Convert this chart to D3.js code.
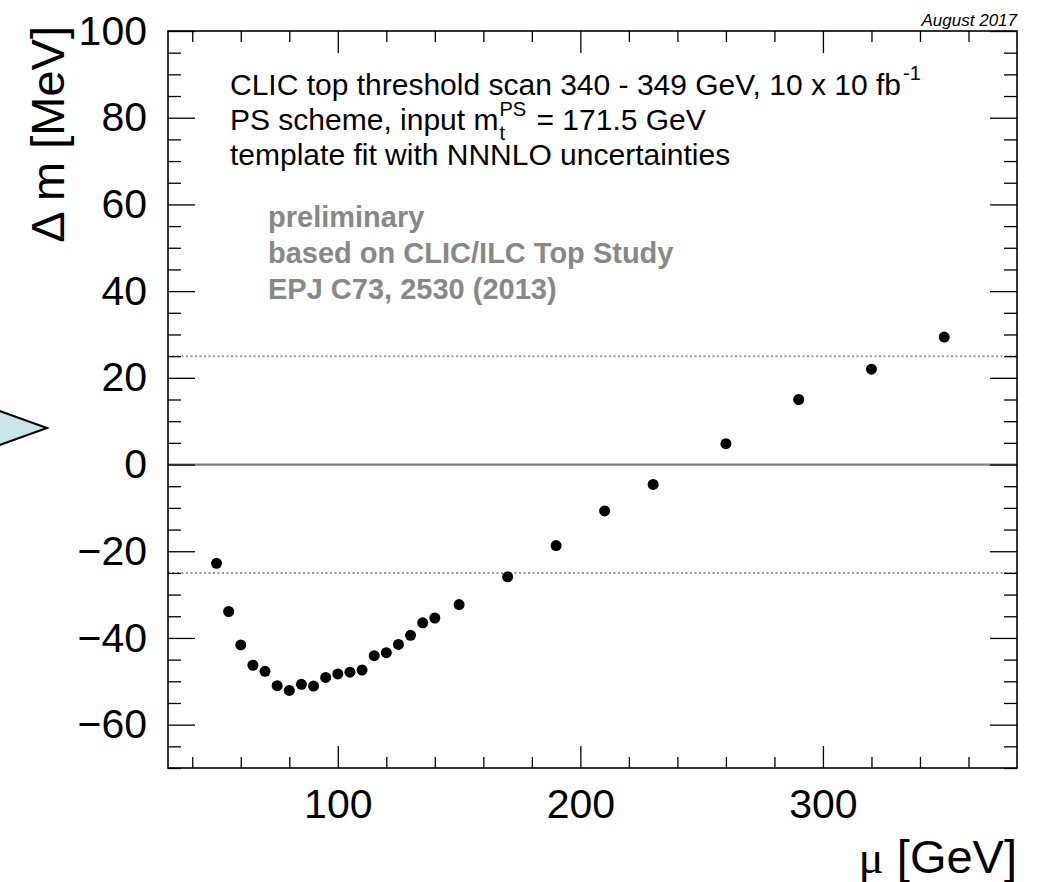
<!DOCTYPE html>
<html>
<head>
<meta charset="utf-8">
<script src="https://cdn.jsdelivr.net/npm/d3@7"></script>
<style>
  html, body { margin: 0; padding: 0; background: #fff; }
  svg { display: block; font-family: "Liberation Sans", Arial, Helvetica, sans-serif; }
</style>
</head>
<body>
<svg id="chart" width="1044" height="882"></svg>
<script>
// ---- data ----
const muValues = [50,55,60,65,70,75,80,85,90,95,100,105,110,115,120,125,130,135,140,150,170,190,210,230,260,290,320,350];
const deltaM   = [-22.8,-33.9,-41.6,-46.3,-47.7,-51.0,-52.1,-50.7,-51.1,-49.1,-48.3,-47.9,-47.4,-44.1,-43.4,-41.5,-39.4,-36.5,-35.4,-32.3,-25.9,-18.7,-10.7,-4.6,4.8,15.0,22.0,29.4];
const xMajorTicks = [100, 200, 300];
const xMinorTicks = [40,60,80,120,140,160,180,220,240,260,280,320,340,360];
const yMajorTicks = [-60,-40,-20,0,20,40,60,80,100];
const yMinorTicks = [-70,-65,-55,-50,-45,-35,-30,-25,-15,-10,-5,5,10,15,25,30,35,45,50,55,65,70,75,85,90,95];
const zeroLine = 0;
const bandLines = [-25, 25];
const infoLines = ["CLIC top threshold scan 340 - 349 GeV, 10 x 10 fb", "PS scheme, input m", "template fit with NNNLO uncertainties"];
const grayLines = ["preliminary", "based on CLIC/ILC Top Study", "EPJ C73, 2530 (2013)"];

// ---- layout ----
const L = 168, T = 31, R = 1017, B = 768;
const svg = d3.select("#chart");
const x = d3.scaleLinear().domain([30, 380]).range([L, R]);
const y = d3.scaleLinear().domain([-70, 100]).range([B, T]);

// pointer triangle at left edge
svg.append("path")
  .attr("d", "M-6,409 L47,428 L-6,447 Z")
  .attr("fill", "#c8e6ea").attr("stroke", "#000").attr("stroke-width", 2);

// reference lines
svg.append("line").attr("x1", L).attr("x2", R).attr("y1", y(zeroLine)).attr("y2", y(zeroLine))
  .attr("stroke", "#808080").attr("stroke-width", 2.2);
svg.selectAll(".band").data(bandLines).enter().append("line")
  .attr("x1", L).attr("x2", R).attr("y1", d => y(d)).attr("y2", d => y(d))
  .attr("stroke", "#999").attr("stroke-width", 2).attr("stroke-dasharray", "2,2.5");

// axes
const fs = 41;
function styleAxis(g) {
  g.select(".domain").remove();
  g.selectAll(".tick line").attr("stroke", "#000").attr("stroke-width", 1.3);
  g.selectAll(".tick text").attr("font-size", fs).attr("fill", "#000")
    .attr("font-family", "'Liberation Sans', Arial, Helvetica, sans-serif");
}
// bottom
svg.append("g").attr("transform", `translate(0,${B})`)
  .call(d3.axisBottom(x).tickValues(xMajorTicks).tickSize(-22).tickPadding(21).tickFormat(d3.format("d")))
  .call(styleAxis);
svg.append("g").attr("transform", `translate(0,${B})`)
  .call(d3.axisBottom(x).tickValues(xMinorTicks).tickSize(-11).tickFormat(""))
  .call(styleAxis);
// top
svg.append("g").attr("transform", `translate(0,${T})`)
  .call(d3.axisTop(x).tickValues(xMajorTicks).tickSize(-22).tickFormat(""))
  .call(styleAxis);
svg.append("g").attr("transform", `translate(0,${T})`)
  .call(d3.axisTop(x).tickValues(xMinorTicks).tickSize(-11).tickFormat(""))
  .call(styleAxis);
// left
svg.append("g").attr("transform", `translate(${L},0)`)
  .call(d3.axisLeft(y).tickValues(yMajorTicks).tickSize(-27).tickPadding(21))
  .call(styleAxis);
svg.append("g").attr("transform", `translate(${L},0)`)
  .call(d3.axisLeft(y).tickValues(yMinorTicks).tickSize(-13).tickFormat(""))
  .call(styleAxis);
// right
svg.append("g").attr("transform", `translate(${R},0)`)
  .call(d3.axisRight(y).tickValues(yMajorTicks).tickSize(-27).tickFormat(""))
  .call(styleAxis);
svg.append("g").attr("transform", `translate(${R},0)`)
  .call(d3.axisRight(y).tickValues(yMinorTicks).tickSize(-13).tickFormat(""))
  .call(styleAxis);

// frame
svg.append("rect").attr("x", L).attr("y", T).attr("width", R - L).attr("height", B - T)
  .attr("fill", "none").attr("stroke", "#000").attr("stroke-width", 1.6);

// points
svg.selectAll(".pt").data(muValues.map((m, i) => [m, deltaM[i]])).enter().append("circle")
  .attr("cx", d => x(d[0])).attr("cy", d => y(d[1])).attr("r", 5.5).attr("fill", "#000");

// axis titles
svg.append("text").attr("transform", "translate(64,26) rotate(-90)")
  .attr("text-anchor", "end").attr("font-size", 47).attr("fill", "#000")
  .text("Δ m [MeV]");
const xt = svg.append("text").attr("x", R).attr("y", 873).attr("text-anchor", "end")
  .attr("font-size", 47).attr("fill", "#000");
xt.append("tspan").attr("font-family", "'Liberation Serif', 'DejaVu Serif', serif").text("μ");
xt.append("tspan").text(" [GeV]");

// date
svg.append("text").attr("x", R).attr("y", 26).attr("text-anchor", "end")
  .attr("font-size", 17).attr("font-style", "italic").attr("fill", "#000").text("August 2017");

// info text
const tx = 230, tfs = 30, base = [95, 130, 165];
const l1 = svg.append("text").attr("x", tx).attr("y", base[0]).attr("font-size", tfs).attr("fill", "#000");
l1.append("tspan").text(infoLines[0]);
l1.append("tspan").attr("font-size", 20).attr("dy", -15).attr("dx", 2).text("-1");

const l2 = svg.append("text").attr("x", tx).attr("y", base[1]).attr("font-size", tfs).attr("fill", "#000").text(infoLines[1]);
const w2 = l2.node().getComputedTextLength();
const sup = svg.append("text").attr("x", tx + w2 + 1).attr("y", base[1] - 14).attr("font-size", 20).attr("fill", "#000").text("PS");
svg.append("text").attr("x", tx + w2 + 1).attr("y", base[1] + 10).attr("font-size", 20).attr("fill", "#000").text("t");
const ws = sup.node().getComputedTextLength();
svg.append("text").attr("x", tx + w2 + ws + 3).attr("y", base[1]).attr("font-size", tfs).attr("fill", "#000")
  .attr("xml:space", "preserve").text(" = 171.5 GeV");

svg.append("text").attr("x", tx).attr("y", base[2]).attr("font-size", tfs).attr("fill", "#000").text(infoLines[2]);

svg.selectAll(".gl").data(grayLines).enter().append("text")
  .attr("x", 268).attr("y", (d, i) => 227 + i * 36)
  .attr("font-size", 29).attr("font-weight", "bold").attr("fill", "#888")
  .text(d => d);
</script>
</body>
</html>
